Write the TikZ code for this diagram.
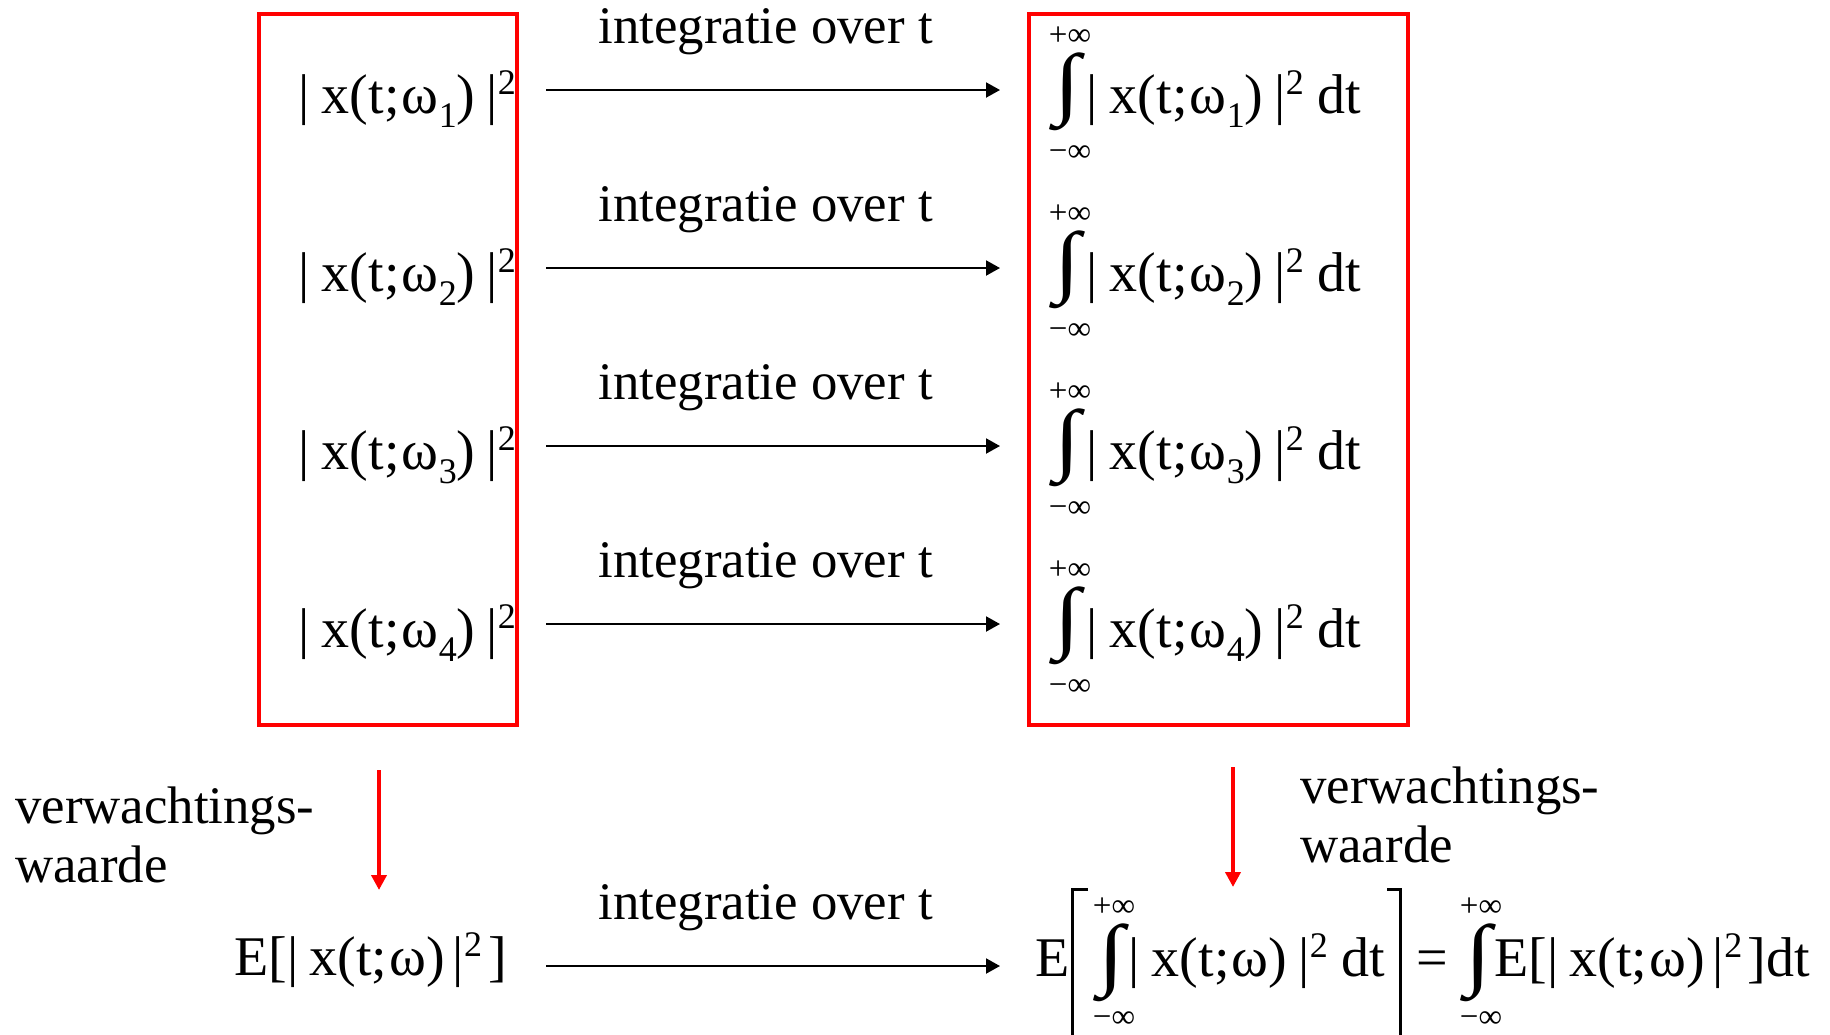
\documentclass[tikz,border=0pt]{standalone}
\usepackage{fontspec}
\setmainfont{Liberation Serif}
\usepackage{graphicx}
\usetikzlibrary{arrows.meta}

\newcommand{\fsz}{\fontsize{28}{32}\selectfont}
\newcommand{\lsz}{\fontsize{26.4}{30}\selectfont}
\newcommand{\limsz}{\fontsize{16.5}{17}\selectfont}
\newcommand{\mysub}[1]{\raisebox{-7pt}{\fontsize{18}{18}\selectfont #1}}
\newcommand{\mysup}[1]{\raisebox{9.5pt}{\fontsize{18}{18}\selectfont #1}}
\newcommand{\bigint}{\resizebox*{13pt}{39pt}{∫}}
\newcommand{\xabsw}[1]{|\hspace{0.22em}x(t;\hspace{0.04em}ω#1)\hspace{0.2em}|\mysup{2}}
\newcommand{\xabsb}{|\hspace{0.2em}x(t;\hspace{0.04em}ω)\hspace{0.14em}|\mysup{2}}

\begin{document}
\begin{tikzpicture}[x=0.5pt,y=-0.5pt,
  lbl/.style={inner sep=0pt, anchor=base west, font=\lsz},
  frm/.style={inner sep=0pt, anchor=base west, font=\fsz},
  lim/.style={inner sep=0pt, font=\limsz},
  intg/.style={inner sep=0pt},
  flow/.style={-{Triangle[length=7pt,width=7.5pt]}, line width=1pt},
  redflow/.style={-{Triangle[length=7.5pt,width=7.5pt]}, line width=2pt, draw=red},
  redbox/.style={draw=red, line width=2pt},
  brk/.style={line width=1.5pt}]
\useasboundingbox (0,0) rectangle (1830,1034);

% boxes
\draw[redbox] (259,14) rectangle (517,725);
\draw[redbox] (1029,14) rectangle (1408,725);

\foreach \i in {1,...,4}{
  \pgfmathsetmacro{\yb}{113+178*(\i-1)}
  \pgfmathsetmacro{\ya}{90+178*(\i-1)}
  \pgfmathsetmacro{\yl}{43+178*(\i-1)}
  \pgfmathsetmacro{\yi}{92+178*(\i-1)}
  \pgfmathsetmacro{\yu}{36+178*(\i-1)}
  \pgfmathsetmacro{\yd}{154+178*(\i-1)}
  \node[frm] (L\i) at (298,\yb) {\xabsw{\mysub{\i}}};
  \node[lbl] (T\i) at (598,\yl) {integratie over t};
  \coordinate (as\i) at (546,\ya);
  \coordinate (ae\i) at (1000,\ya);
  \draw[flow] (as\i) -- (ae\i);
  \node[intg] (I\i) at (1067,\yi) {\bigint};
  \node[lim] (U\i) at (1070,\yu) {+∞};
  \node[lim] (D\i) at (1070,\yd) {−∞};
  \node[frm] (R\i) at (1086,\yb) {\xabsw{\mysub{\i}}\hspace{0.25em}dt};
}

% expectation arrows and labels
\coordinate (ls) at (379,770);
\coordinate (le) at (379,890);
\draw[redflow] (ls) -- (le);
\coordinate (rs) at (1233,767);
\coordinate (re) at (1233,887);
\draw[redflow] (rs) -- (re);
\node[lbl] (V1) at (15,823) {verwachtings-};
\node[lbl] (W1) at (15,882) {waarde};
\node[lbl] (V2) at (1300,803) {verwachtings-};
\node[lbl] (W2) at (1300,862) {waarde};

% bottom row
\node[frm] (BL) at (234,975) {E[\xabsb\hspace{0.12em}]};
\node[lbl] (T5) at (598,919) {integratie over t};
\coordinate (as5) at (546,966);
\coordinate (ae5) at (1000,966);
\draw[flow] (as5) -- (ae5);

\node[frm] (BE) at (1035,976) {E};
\draw[brk] (1088,889) -- (1072,889) -- (1072,1040);
\node[intg] (BI1) at (1111,963) {\bigint};
\node[lim] (BU1) at (1114,907) {+∞};
\node[lim] (BD1) at (1114,1020) {−∞};
\node[frm] (BR) at (1128,976) {\xabsw{}\hspace{0.25em}dt};
\draw[brk] (1387,889) -- (1400,889) -- (1400,1040);
\node[frm] (EQ) at (1416,976) {=};
\node[intg] (BI2) at (1478,963) {\bigint};
\node[lim] (BU2) at (1481,907) {+∞};
\node[lim] (BD2) at (1481,1020) {−∞};
\node[frm] (BRR) at (1494,976) {E[\xabsb\hspace{0.1em}]dt};
\end{tikzpicture}
\end{document}
